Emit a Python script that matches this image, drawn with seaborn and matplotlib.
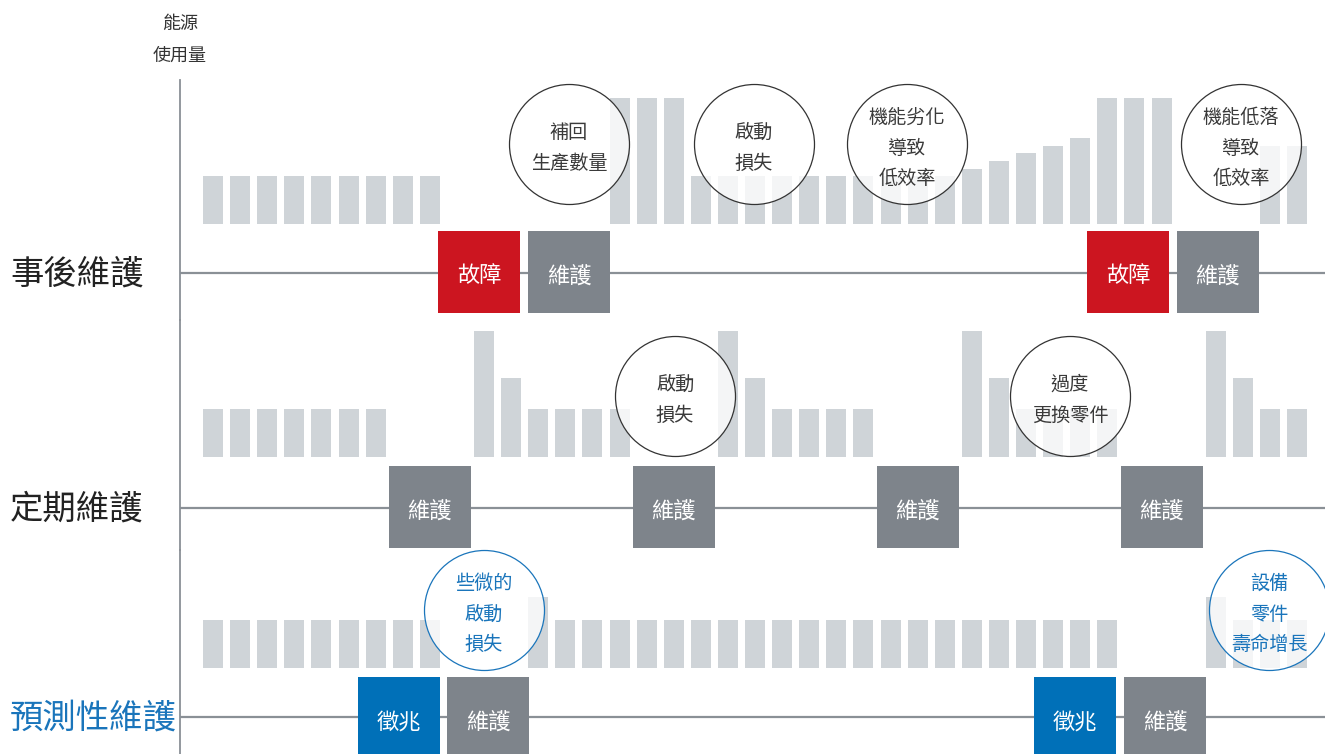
import matplotlib
matplotlib.use("Agg")
import matplotlib.pyplot as plt
import seaborn as sns
import pandas as pd
from matplotlib.patches import Rectangle

sns.set_theme(style="white")
plt.rcParams['font.family'] = ['Noto Sans CJK TC', 'DejaVu Sans']

# ---------------- data ----------------
slots = list(range(41))
row_labels = ['事後維護', '定期維護', '預測性維護']
y_label = '能源\n使用量'

reactive_energy = [48] * 9 + [0] * 6 + [126] * 3 + [48] * 10 + [55, 63, 71, 78, 86] + [126] * 3 + [0] * 3 + [78, 78]
preventive_energy = ([48] * 7 + [0] * 3 + [126, 79] + [48] * 4 + [0] * 3 + [126, 79] + [48] * 4 + [0] * 3 +
                     [126, 79] + [48] * 4 + [0] * 3 + [126, 79] + [48] * 2)
predictive_energy = [48] * 9 + [0] * 3 + [71] + [48] * 21 + [0] * 3 + [71] + [48] * 3

reactive_events = [('故障', 9.82, 'fail'), ('維護', 13.14, 'maint'), ('故障', 33.76, 'fail'), ('維護', 37.08, 'maint')]
preventive_events = [('維護', 8.0, 'maint'), ('維護', 17.0, 'maint'), ('維護', 26.0, 'maint'), ('維護', 35.0, 'maint')]
predictive_events = [('徵兆', 6.86, 'sign'), ('維護', 10.15, 'maint'), ('徵兆', 31.81, 'sign'), ('維護', 35.13, 'maint')]

reactive_notes = [('補回\n生產數量', 13.14), ('啟動\n損失', 19.96), ('機能劣化\n導致\n低效率', 25.61), ('機能低落\n導致\n低效率', 37.93)]
preventive_notes = [('啟動\n損失', 17.05), ('過度\n更換零件', 31.62)]
predictive_notes = [('些微的\n啟動\n損失', 10.0), ('設備\n零件\n壽命增長', 38.97)]

# ---------------- style / layout ----------------
W, H = 1325, 754
BAR_C = '#cfd4d8'
LINE_C = '#8a9096'
BOX_C = {'fail': '#cc1520', 'maint': '#7e848b', 'sign': '#0070b8'}
NOTE_TXT = '#3a3a3a'
BLUE_TXT = '#1a75bb'
PITCH, X0 = 27.1, 213.0
rows = [
    # data, events, notes, axes top px, axes bottom px, bar base px, line px, box top px, circle px, edge, text, label colour
    (reactive_energy, reactive_events, reactive_notes, 80, 320, 224, 273, 231, 144, '#333333', NOTE_TXT, '#222222'),
    (preventive_energy, preventive_events, preventive_notes, 320, 550, 457, 508, 466, 396, '#333333', NOTE_TXT, '#222222'),
    (predictive_energy, predictive_events, predictive_notes, 550, 754, 668, 717, 677, 610, '#1a75bb', BLUE_TXT, '#1a75bb'),
]

fig = plt.figure(figsize=(W / 100, H / 100), dpi=100)
fig.patch.set_facecolor('white')

xlim = ((180 - X0) / PITCH, (W - X0) / PITCH)
box_w = 82 / PITCH

for (vals, events, notes, top, bot, base, line_y, box_top, circ_y, edge_c, txt_c, lab_c), label in zip(rows, row_labels):
    ax = fig.add_axes([180 / W, 1 - bot / H, (W - 180) / W, (bot - top) / H])
    df = pd.DataFrame({'slot': slots, 'energy': vals})
    sns.barplot(data=df, x='slot', y='energy', ax=ax, color=BAR_C, saturation=1,
                width=20 / PITCH, linewidth=0, zorder=1)
    ax.set_xlim(*xlim)
    ax.set_ylim(-(bot - base), base - top)
    ax.axhline(base - line_y, color=LINE_C, lw=1.6, zorder=2)
    # event boxes
    for txt, k, kind in events:
        ax.add_patch(Rectangle((k - box_w / 2, base - box_top - 82), box_w, 82,
                               facecolor=BOX_C[kind], edgecolor='none', zorder=3, clip_on=False))
        ax.text(k, base - box_top - 45, txt, color='white', fontsize=16,
                ha='center', va='center', zorder=4)
    # callout circles
    for txt, k in notes:
        ax.scatter([k], [base - circ_y], s=(120 * 0.72) ** 2, marker='o',
                   facecolor=(1, 1, 1, 0.78), edgecolor=edge_c, linewidth=0.9,
                   zorder=5, clip_on=False)
        ax.text(k, base - circ_y - 4, txt, color=txt_c, fontsize=13.8, ha='center', va='center',
                linespacing=1.62, zorder=6)
    for s in ['top', 'right', 'bottom']:
        ax.spines[s].set_visible(False)
    ax.spines['left'].set_color(LINE_C)
    ax.spines['left'].set_linewidth(1.3)
    ax.set_xticks([])
    ax.set_yticks([])
    ax.set_xlabel('')
    ax.set_ylabel('')
    ax.patch.set_alpha(0)
    fig.text(10 / W, 1 - (line_y + 1) / H, label, color=lab_c, fontsize=24, ha='left', va='center')

fig.text(180 / W, 1 - 40 / H, y_label, color='#333333', fontsize=13, ha='center', va='center',
         linespacing=1.95)

fig.savefig('out.png', dpi=100, facecolor='white')
